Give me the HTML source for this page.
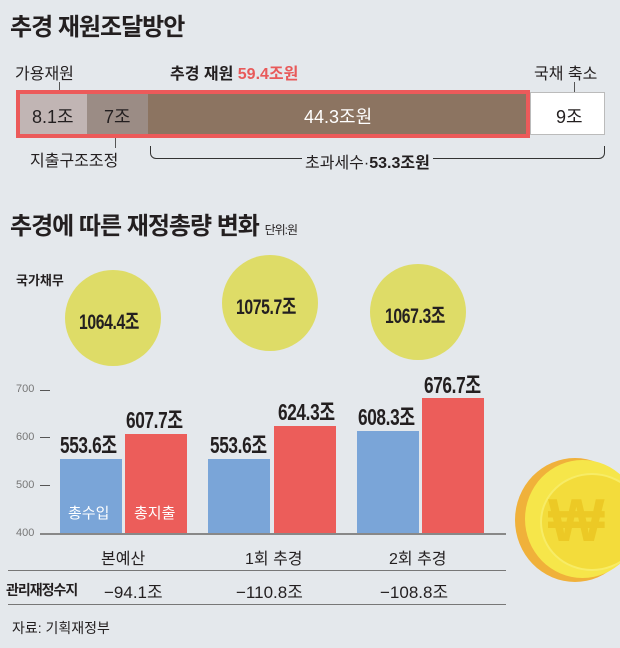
<!DOCTYPE html><html><head><meta charset="utf-8"><style>
body{margin:0;width:620px;height:648px;background:#e4e8ec;position:relative;overflow:hidden;font-family:"Liberation Sans","Noto Sans CJK KR",sans-serif;color:#231f20}
.a{position:absolute;white-space:nowrap}
.t{font-weight:bold;font-size:24px;letter-spacing:-1px}
.b{font-weight:bold;font-size:23px;transform:scaleX(.75);transform-origin:left top;letter-spacing:-.5px}
.bar{position:absolute}
.c{position:absolute;border-radius:50%;background:#dedc67}
.tk{font-size:11px;color:#777}
</style></head><body>
<div class="a t" style="left:10px;top:7px">추경 재원조달방안</div>
<div class="a" style="left:15px;top:60px;font-size:16px">가용재원</div>
<div class="a" style="left:170px;top:60px;font-size:16px;font-weight:bold">추경 재원 <span style="color:#e85a5a">59.4조원</span></div>
<div class="a" style="left:534px;top:60px;font-size:16px">국채 축소</div>
<div class="bar" style="left:59px;top:82px;width:1px;height:10px;background:#555"></div>
<div class="bar" style="left:574px;top:82px;width:1px;height:10px;background:#555"></div>
<div class="bar" style="left:16px;top:90px;width:514px;height:48px;background:#ec5a5a"></div>
<div class="bar" style="left:20px;top:94px;width:67px;height:40px;background:#c1b5b4"></div>
<div class="bar" style="left:87px;top:94px;width:61px;height:40px;background:#9b8c85"></div>
<div class="bar" style="left:148px;top:94px;width:378px;height:40px;background:#8c7461"></div>
<div class="bar" style="left:530px;top:92px;width:75px;height:43px;background:#fff;border:1px solid #bbb;box-sizing:border-box"></div>
<div class="a" style="left:32px;top:103px;font-size:18px">8.1조</div>
<div class="a" style="left:104px;top:103px;font-size:18px">7조</div>
<div class="a" style="left:304px;top:103px;font-size:18px;color:#fff">44.3조원</div>
<div class="a" style="left:556px;top:103px;font-size:18px">9조</div>
<div class="bar" style="left:115px;top:138px;width:1px;height:10px;background:#555"></div>
<div class="a" style="left:30px;top:147px;font-size:16px">지출구조조정</div>
<div class="bar" style="left:150px;top:146px;width:453px;height:12px;border:1.5px solid #333;border-top:none;border-radius:0 0 6px 6px"></div>
<div class="a" style="left:302px;top:149px;font-size:16px;background:#e4e8ec;padding:0 3px">초과세수·<b>53.3조원</b></div>
<div class="a t" style="left:10px;top:206px">추경에 따른 재정총량 변화 <span style="font-size:12px;font-weight:normal">단위:원</span></div>
<div class="a" style="left:16px;top:270px;font-size:13px;font-weight:bold">국가채무</div>
<div class="c" style="left:65px;top:270px;width:96px;height:96px"></div>
<div class="c" style="left:222px;top:255px;width:96px;height:96px"></div>
<div class="c" style="left:370px;top:264px;width:96px;height:96px"></div>
<div class="a b" style="left:79px;top:306px;font-size:21px">1064.4조</div>
<div class="a b" style="left:236px;top:291px;font-size:21px">1075.7조</div>
<div class="a b" style="left:385px;top:300px;font-size:21px">1067.3조</div>
<div class="a tk" style="left:16px;top:383px">700</div><div class="bar" style="left:40px;top:390px;width:10px;height:1px;background:#555"></div>
<div class="a tk" style="left:16px;top:431px">600</div><div class="bar" style="left:40px;top:437px;width:10px;height:1px;background:#555"></div>
<div class="a tk" style="left:16px;top:479px">500</div><div class="bar" style="left:40px;top:485px;width:10px;height:1px;background:#555"></div>
<div class="a tk" style="left:16px;top:527px">400</div>
<div class="bar" style="left:60px;top:459px;width:62px;height:74px;background:#7aa5d8"></div>
<div class="bar" style="left:125px;top:434px;width:62px;height:99px;background:#ec5d5a"></div>
<div class="bar" style="left:208px;top:459px;width:62px;height:74px;background:#7aa5d8"></div>
<div class="bar" style="left:274px;top:426px;width:62px;height:107px;background:#ec5d5a"></div>
<div class="bar" style="left:357px;top:431px;width:62px;height:102px;background:#7aa5d8"></div>
<div class="bar" style="left:422px;top:398px;width:62px;height:135px;background:#ec5d5a"></div>
<div class="bar" style="left:40px;top:533px;width:466px;height:2px;background:#888"></div>
<div class="a" style="left:68px;top:502px;font-size:15px;color:#fff">총수입</div>
<div class="a" style="left:134px;top:502px;font-size:15px;color:#fff">총지출</div>
<div class="a b" style="left:60px;top:426px">553.6조</div>
<div class="a b" style="left:126px;top:401px">607.7조</div>
<div class="a b" style="left:210px;top:426px">553.6조</div>
<div class="a b" style="left:278px;top:393px">624.3조</div>
<div class="a b" style="left:358px;top:398px">608.3조</div>
<div class="a b" style="left:424px;top:366px">676.7조</div>
<div class="a" style="left:101px;top:545px;font-size:16px">본예산</div>
<div class="a" style="left:245px;top:545px;font-size:16px">1회 추경</div>
<div class="a" style="left:389px;top:545px;font-size:16px">2회 추경</div>
<div class="bar" style="left:8px;top:570px;width:498px;height:1px;background:#777"></div>
<div class="a" style="left:6px;top:580px;font-size:14px;font-weight:bold;letter-spacing:-1px">관리재정수지</div>
<div class="a" style="left:104px;top:578px;font-size:17px">−94.1조</div>
<div class="a" style="left:236px;top:578px;font-size:17px">−110.8조</div>
<div class="a" style="left:380px;top:578px;font-size:17px">−108.8조</div>
<div class="bar" style="left:8px;top:604px;width:498px;height:1px;background:#777"></div>
<div class="a" style="left:12px;top:618px;font-size:14px">자료: 기획재정부</div>
<div class="c" style="left:515px;top:458px;width:120px;height:124px;background:#f0b13a"></div>
<div class="c" style="left:525px;top:460px;width:115px;height:118px;background:#f6e64a"></div>
<div class="c" style="left:540px;top:473px;width:100px;height:94px;background:#f3dc3b;border:2px solid #f7ec66"></div>
<div class="a" style="left:548px;top:486px;font-size:60px;font-weight:bold;color:#ecc925">₩</div>
</body></html>
